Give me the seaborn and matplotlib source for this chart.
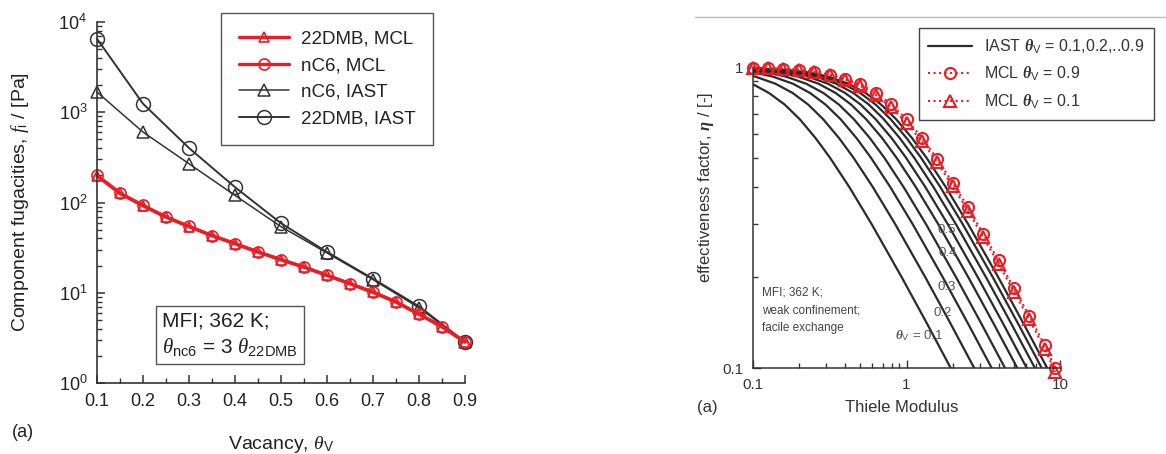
import seaborn as sns
import matplotlib.pyplot as plt
from matplotlib.lines import Line2D
from matplotlib.ticker import MultipleLocator, LogLocator, NullFormatter

# left panel: component fugacities vs vacancy
theta_mcl = [0.10, 0.15, 0.20, 0.25, 0.30, 0.35, 0.40, 0.45, 0.50,
             0.55, 0.60, 0.65, 0.70, 0.75, 0.80, 0.85, 0.90]
f_22dmb_mcl = [198, 126, 92, 69, 54, 43, 35, 28.3, 23.2,
               19.2, 15.6, 12.6, 10.1, 7.9, 5.8, 4.2, 2.85]
f_nc6_mcl = [200, 127, 93, 69, 54.5, 43, 35, 28.3, 23.3,
             19.3, 15.6, 12.6, 10.2, 7.9, 5.8, 4.2, 2.85]
theta_iast = [0.1, 0.2, 0.3, 0.4, 0.5, 0.6, 0.7, 0.8, 0.9]
f_nc6_iast = [1676, 604, 269, 120, 54, 27.6, 14.0, 6.8, 2.85]
f_22dmb_iast = [6530, 1245, 402, 148, 59, 28.3, 14.3, 7.07, 2.85]

# right panel: effectiveness factor vs Thiele modulus
phi_mcl = [0.1, 0.126, 0.158, 0.2, 0.251, 0.316, 0.398, 0.501, 0.631, 0.794, 1.0,
           1.259, 1.585, 1.995, 2.512, 3.162, 3.981, 5.012, 6.31, 7.943, 9.3]
eta_mcl_09 = [0.994, 0.990, 0.985, 0.976, 0.963, 0.943, 0.915, 0.875, 0.822, 0.752, 0.670,
              0.583, 0.495, 0.413, 0.342, 0.279, 0.228, 0.184, 0.149, 0.119, 0.100]
eta_mcl_01 = [0.994, 0.990, 0.984, 0.975, 0.961, 0.939, 0.908, 0.864, 0.806, 0.734, 0.652,
              0.567, 0.482, 0.402, 0.333, 0.272, 0.222, 0.179, 0.145, 0.116, 0.097]

eta_levels = [0.995, 0.98, 0.96, 0.93, 0.88, 0.82, 0.75, 0.67,
              0.58, 0.50, 0.40, 0.30, 0.20, 0.14, 0.10, 0.08]
phi_iast_01 = [0.0184, 0.0375, 0.0536, 0.0723, 0.0985, 0.127, 0.161, 0.202,
               0.256, 0.317, 0.423, 0.594, 0.932, 1.365, 1.94, 2.44]
phi_iast_02 = [0.0261, 0.0534, 0.0763, 0.103, 0.140, 0.181, 0.229, 0.287,
               0.364, 0.451, 0.602, 0.846, 1.327, 1.943, 2.76, 3.48]
phi_iast_03 = [0.0340, 0.0694, 0.0991, 0.134, 0.182, 0.235, 0.297, 0.373,
               0.473, 0.586, 0.782, 1.099, 1.725, 2.525, 3.59, 4.52]
phi_iast_04 = [0.0415, 0.0847, 0.121, 0.163, 0.222, 0.287, 0.363, 0.455,
               0.578, 0.716, 0.955, 1.342, 2.106, 3.083, 4.38, 5.52]
phi_iast_05 = [0.0498, 0.102, 0.145, 0.196, 0.267, 0.345, 0.436, 0.547,
               0.695, 0.860, 1.147, 1.613, 2.531, 3.706, 5.27, 6.63]
phi_iast_06 = [0.0574, 0.117, 0.168, 0.226, 0.308, 0.398, 0.503, 0.631,
               0.801, 0.992, 1.323, 1.860, 2.918, 4.273, 6.07, 7.65]
phi_iast_07 = [0.0649, 0.133, 0.190, 0.256, 0.348, 0.450, 0.569, 0.713,
               0.905, 1.121, 1.495, 2.102, 3.299, 4.829, 6.86, 8.64]
phi_iast_08 = [0.0719, 0.147, 0.210, 0.284, 0.386, 0.499, 0.630, 0.790,
               1.003, 1.242, 1.656, 2.328, 3.654, 5.349, 7.60, 9.57]
phi_iast_09 = [0.0781, 0.160, 0.228, 0.308, 0.419, 0.541, 0.684, 0.858,
               1.088, 1.348, 1.798, 2.527, 3.966, 5.806, 8.25, 10.39]

curve_labels = ["0.5", "0.4", "0.3", "0.2"]

sns.set_style("ticks")
plt.rcParams["font.family"] = ["Liberation Sans", "DejaVu Sans"]
plt.rcParams["mathtext.fontset"] = "custom"
plt.rcParams["mathtext.rm"] = "Liberation Sans"
plt.rcParams["mathtext.it"] = "Liberation Serif:italic"
plt.rcParams["mathtext.bf"] = "Liberation Serif:bold:italic"

red = "#ec1c24"
dark = "#333333"

fig = plt.figure(figsize=(11.66, 4.54), dpi=100)
ax1 = fig.add_axes([0.0832, 0.1564, 0.3156, 0.795])
ax2 = fig.add_axes([0.6458, 0.1894, 0.2633, 0.663])

# ---------- left panel
sns.lineplot(x=theta_iast, y=f_nc6_iast, ax=ax1, color=dark, lw=1.1, marker="^",
             ms=9, mfc="none", mec=dark, mew=1.1, label="nC6, IAST", clip_on=False)
sns.lineplot(x=theta_iast, y=f_22dmb_iast, ax=ax1, color=dark, lw=1.4, marker="o",
             ms=10, mfc="none", mec=dark, mew=1.1, label="22DMB, IAST", clip_on=False)
sns.lineplot(x=theta_mcl, y=f_22dmb_mcl, ax=ax1, color=red, lw=2.4, marker="^",
             ms=7, mfc="none", mec=red, mew=1.2, label="22DMB, MCL", clip_on=False)
sns.lineplot(x=theta_mcl, y=f_nc6_mcl, ax=ax1, color=red, lw=2.4, marker="o",
             ms=8, mfc="none", mec=red, mew=1.2, label="nC6, MCL", clip_on=False)

ax1.set_yscale("log")
ax1.set_xlim(0.1, 0.9)
ax1.set_ylim(1, 1e4)
ax1.xaxis.set_major_locator(MultipleLocator(0.1))
ax1.xaxis.set_minor_locator(MultipleLocator(0.05))
ax1.yaxis.set_major_locator(LogLocator(base=10, numticks=10))
ax1.yaxis.set_minor_locator(LogLocator(base=10, subs=range(2, 10), numticks=20))
ax1.yaxis.set_minor_formatter(NullFormatter())
ax1.tick_params(which="both", direction="in", colors=dark, labelcolor="#222222")
ax1.tick_params(which="major", length=6, width=1.1, labelsize=13, pad=7)
ax1.tick_params(which="minor", length=3.5, width=1)
sns.despine(ax=ax1)
for s in ["left", "bottom"]:
    ax1.spines[s].set_color(dark)
    ax1.spines[s].set_linewidth(1.2)

ax1.set_xlabel(r"Vacancy, $\theta_\mathrm{V}$", fontsize=14, color="#222222")
ax1.xaxis.set_label_coords(0.5, -0.14)
ax1.set_ylabel(r"Component fugacities, $f_\mathrm{i}$ / [Pa]", fontsize=14, color="#222222")
ax1.yaxis.set_label_coords(-0.18, 0.5)

h, l = ax1.get_legend_handles_labels()
order = ["22DMB, MCL", "nC6, MCL", "nC6, IAST", "22DMB, IAST"]
hs = [h[l.index(k)] for k in order]
leg1 = ax1.legend(hs, order, loc="upper left", bbox_to_anchor=(0.1895, 0.9714),
                  bbox_transform=fig.transFigure, fontsize=13.5, frameon=True,
                  fancybox=False, edgecolor="#555555", framealpha=1,
                  handlelength=2.7, handletextpad=0.6, labelspacing=0.5,
                  borderpad=0.95, borderaxespad=0)
leg1.get_frame().set_linewidth(1.0)
for t in leg1.get_texts():
    t.set_color("#222222")

fig.text(0.139, 0.263, "MFI; 362 K;\n" + r"$\theta_\mathrm{nc6}$ = 3 $\theta_\mathrm{22DMB}$",
         fontsize=15, color="#222222", va="center", ha="left", linespacing=1.3,
         bbox=dict(boxstyle="square,pad=0.3", fc="white", ec="#555555", lw=1.0))
fig.text(0.010, 0.037, "(a)", fontsize=13, color="#222222")

# ---------- right panel
iast_curves = [phi_iast_01, phi_iast_02, phi_iast_03, phi_iast_04, phi_iast_05,
               phi_iast_06, phi_iast_07, phi_iast_08, phi_iast_09]
for i, phis in enumerate(iast_curves):
    lab = r"IAST $\mathbf{\theta}_\mathrm{V}$ = 0.1,0.2,..0.9" if i == 0 else None
    sns.lineplot(x=phis, y=eta_levels, ax=ax2, color="#2b2b2b", lw=1.6,
                 sort=False, label=lab)

sns.lineplot(x=phi_mcl, y=eta_mcl_09, ax=ax2, color=red, lw=1.5, ls=":", marker="o",
             ms=8, mfc="none", mec=red, mew=1.5, clip_on=False,
             label=r"MCL $\mathbf{\theta}_\mathrm{V}$ = 0.9")
sns.lineplot(x=phi_mcl, y=eta_mcl_01, ax=ax2, color=red, lw=1.5, ls=":", marker="^",
             ms=8, mfc="none", mec=red, mew=1.5, clip_on=False,
             label=r"MCL $\mathbf{\theta}_\mathrm{V}$ = 0.1")

ax2.set_xscale("log")
ax2.set_yscale("log")
ax2.set_xlim(0.1, 10)
ax2.set_ylim(0.1, 1)
ax2.set_xticks([0.1, 1, 10], labels=["0.1", "1", "10"])
ax2.set_yticks([0.1, 1], labels=["0.1", "1"])
ax2.xaxis.set_minor_locator(LogLocator(base=10, subs=range(2, 10), numticks=20))
ax2.yaxis.set_minor_locator(LogLocator(base=10, subs=range(2, 10), numticks=20))
ax2.xaxis.set_minor_formatter(NullFormatter())
ax2.yaxis.set_minor_formatter(NullFormatter())
ax2.tick_params(which="both", direction="in", colors=dark, labelcolor="#333333")
ax2.tick_params(which="major", length=6, width=1, labelsize=11, pad=7)
ax2.tick_params(which="minor", length=3.5, width=1)
sns.despine(ax=ax2)
for s in ["left", "bottom"]:
    ax2.spines[s].set_color(dark)
    ax2.spines[s].set_linewidth(1.1)

ax2.set_xlabel("Thiele Modulus", fontsize=12, color="#333333")
ax2.xaxis.set_label_coords(0.485, -0.105)
ax2.set_ylabel(r"effectiveness factor, $\mathbf{\eta}$ / [-]", fontsize=12, color="#333333")
ax2.yaxis.set_label_coords(-0.12, 0.60)

h2, l2 = ax2.get_legend_handles_labels()
leg2 = ax2.legend(h2, l2, loc="upper left", bbox_to_anchor=(0.788, 0.938),
                  bbox_transform=fig.transFigure, fontsize=11.5, frameon=True,
                  fancybox=False, edgecolor="#444444", framealpha=1,
                  handlelength=2.7, handletextpad=0.8, labelspacing=0.55,
                  borderpad=0.6, borderaxespad=0)
leg2.get_frame().set_linewidth(1.0)
for t in leg2.get_texts():
    t.set_color("#333333")

# curve labels on the IAST lines
ax2.text(1.84, 0.287, curve_labels[0], fontsize=9.5, color="#555555", ha="center", va="center")
ax2.text(1.86, 0.241, curve_labels[1], fontsize=9.5, color="#555555", ha="center", va="center")
ax2.text(1.84, 0.186, curve_labels[2], fontsize=9.5, color="#555555", ha="center", va="center")
ax2.text(1.73, 0.152, curve_labels[3], fontsize=9.5, color="#555555", ha="center", va="center")
ax2.text(1.21, 0.128, r"$\mathbf{\theta}_\mathrm{V}$ = 0.1", fontsize=9.5, color="#555555",
         ha="center", va="center")
ax2.text(0.029, 0.27, "MFI; 362 K;\nweak confinement;\nfacile exchange",
         transform=ax2.transAxes, fontsize=8.5, color="#444444", va="top", ha="left",
         linespacing=1.6)
fig.text(0.598, 0.093, "(a)", fontsize=12, color="#333333")

fig.add_artist(Line2D([0.596, 1.0], [0.9626, 0.9626], transform=fig.transFigure,
                      color="#bbbbbb", lw=1))

fig.savefig("out.png", dpi=100)
